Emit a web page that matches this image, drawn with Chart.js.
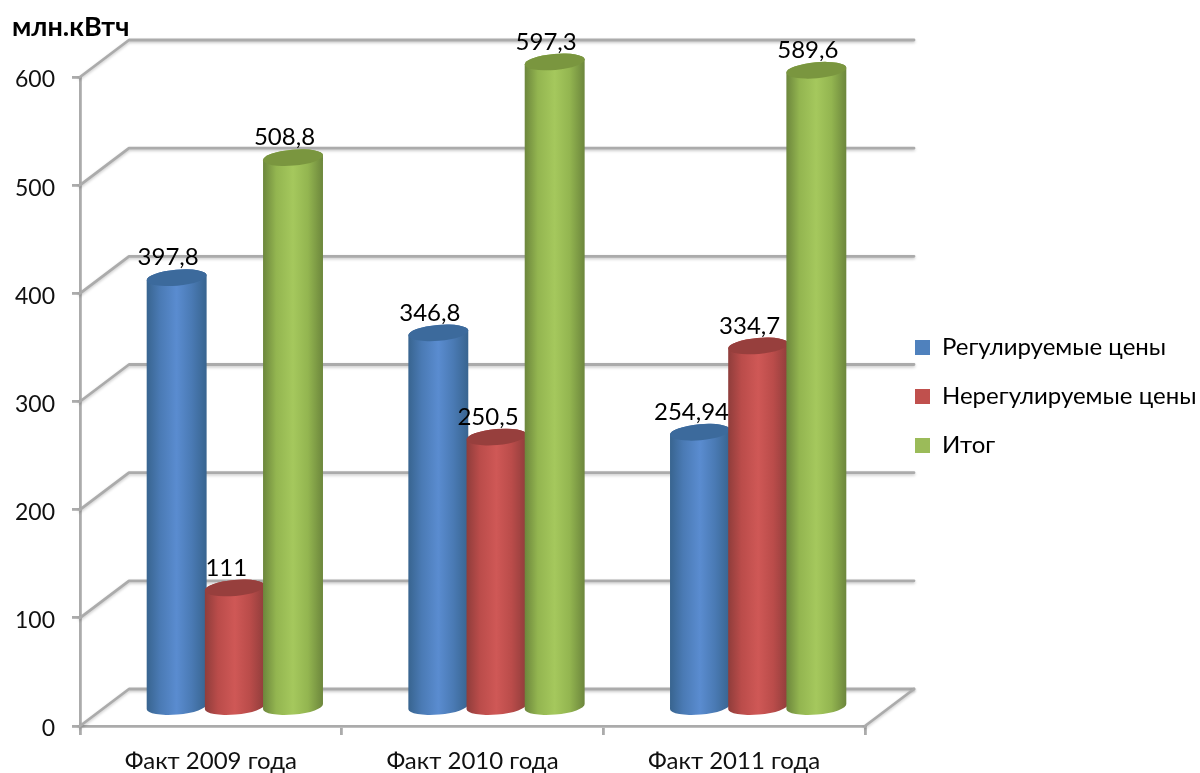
<!DOCTYPE html>
<html><head><meta charset="utf-8">
<style>html,body{margin:0;padding:0;background:#fff}canvas{display:block}</style>
<script src="https://cdn.jsdelivr.net/npm/chart.js@4"></script>
</head><body><canvas id="c" width="1200" height="773"></canvas>
<script>
const categories = ['Факт 2009 года','Факт 2010 года','Факт 2011 года'];
const regulated = [397.8,346.8,254.94];
const unregulated = [111,250.5,334.7];
const total = [508.8,597.3,589.6];
const seriesNames = ['Регулируемые цены','Нерегулируемые цены','Итог'];
const yMax = 600, yStep = 100;
const unitLabel = 'млн.кВтч';

const FONT = 'Lato, "Open Sans", sans-serif';
const FS = 23;
const DX = 24, DY = -18;
const WALL_DX = 49, WALL_DY = -37;
const WALL = '#ababab';
const palette = [
  {edge:'#38648f',mid:'#4a7ab4',light:'#5a8cd0',top:'#3c6a9c',key:'#4f81bd'},
  {edge:'#8f3d3b',mid:'#ba4c4a',light:'#cf5856',top:'#973f3d',key:'#c0504d'},
  {edge:'#6c863c',mid:'#93b550',light:'#a5c85d',top:'#7a963f',key:'#9bbb59'}
];

let barQueue = [];
Chart.BarElement.prototype.draw = function(ctx){ barQueue.push(this); };
function paintCylinder(el, ctx){
  const c = palette.find(p=>p.key===el.options.backgroundColor) || palette[0];
  const cx = el.x + DX, r = el.width/2, ry = 8, a = 5*Math.PI/180;
  const yt = el.y + DY, yb = el.base + DY;
  ctx.save();
  const g = ctx.createLinearGradient(cx-r,0,cx+r,0);
  g.addColorStop(0,c.edge);g.addColorStop(.22,c.mid);g.addColorStop(.5,c.light);
  g.addColorStop(.75,c.mid);g.addColorStop(1,c.edge);
  ctx.beginPath();
  ctx.ellipse(cx,yb,r,ry,-a,0,Math.PI,false);
  ctx.ellipse(cx,yt,r,ry,-a,Math.PI,Math.PI*2,false);
  ctx.closePath();
  ctx.fillStyle = g; ctx.fill();
  ctx.beginPath();
  ctx.ellipse(cx,yt,r,ry,-a,0,Math.PI*2);
  ctx.fillStyle = c.top; ctx.fill();
  ctx.restore();
}

const walls = {
  id:'walls',
  afterInit(chart){
    const lg = chart.legend, orig = lg.fit;
    lg.fit = function(){ orig.call(this); this.width = 335; };
  },
  afterLayout(chart){
    const lg = chart.legend, pad = lg.options.labels.padding;
    const w = lg.width;
    lg.left = 915 - pad; lg.right = lg.left + w;
    lg.top += 10; lg.bottom += 10;
  },
  beforeDatasetsDraw(chart){
    barQueue = [];
    const {ctx, scales:{x,y}} = chart;
    const L = x.left, R = x.right, rb = R + WALL_DX;
    const y0 = y.getPixelForValue(0);
    ctx.save();
    ctx.lineCap='round'; ctx.lineJoin='round';
    ctx.strokeStyle = WALL; ctx.lineWidth = 2.8;
    ctx.shadowColor='rgba(0,0,0,.22)'; ctx.shadowBlur=3; ctx.shadowOffsetY=1.5;
    y.ticks.forEach(t=>{
      const p = y.getPixelForValue(t.value);
      ctx.beginPath();
      ctx.moveTo(L,p);
      ctx.lineTo(L+WALL_DX,p+WALL_DY);
      ctx.lineTo(rb,p+WALL_DY);
      ctx.stroke();
    });
    ctx.beginPath();
    ctx.moveTo(R,y0);ctx.lineTo(rb,y0+WALL_DY);ctx.stroke();
    ctx.restore();
  },
  afterDatasetsDraw(chart){
    const {ctx} = chart;
    barQueue.slice().reverse().forEach(el=>paintCylinder(el,ctx));
    ctx.save();
    ctx.font = `24px ${FONT}`;
    ctx.fillStyle='#000';ctx.textAlign='center';ctx.textBaseline='middle';
    chart.data.datasets.forEach((ds,i)=>{
      chart.getDatasetMeta(i).data.forEach((el,j)=>{
        ctx.fillText(String(ds.data[j]).replace('.',','), el.x+DX-8.5, el.y+DY-20);
      });
    });
    ctx.restore();
  }
};

new Chart(document.getElementById('c'),{
  type:'bar',
  data:{labels:categories,datasets:[
    {label:seriesNames[0],data:regulated,backgroundColor:palette[0].key},
    {label:seriesNames[1],data:unregulated,backgroundColor:palette[1].key},
    {label:seriesNames[2],data:total,backgroundColor:palette[2].key}
  ]},
  plugins:[walls],
  options:{
    responsive:false,animation:false,
    layout:{padding:{left:12,right:0,top:0,bottom:0}},
    datasets:{bar:{categoryPercentage:0.667,barPercentage:1.034}},
    plugins:{
      tooltip:{enabled:false},
      title:{display:true,text:unitLabel,align:'start',color:'#000',
        font:{family:FONT,size:27,weight:'bold'},padding:{top:11,bottom:33.6}},
      legend:{position:'right',
        labels:{boxWidth:15,boxHeight:15,padding:25,color:'#000',
          font:{family:FONT,size:24}}}
    },
    scales:{
      x:{
        afterFit(s){s.height=47;},
        grid:{offset:true,drawOnChartArea:false,color:WALL,lineWidth:2.8,tickLength:9},
        border:{color:WALL,width:2.8},
        ticks:{color:'#111',font:{family:FONT,size:24},padding:12,maxRotation:0}
      },
      y:{
        min:0,max:yMax,
        afterFit(s){s.width=68;},
        grid:{drawOnChartArea:false,color:WALL,lineWidth:2.8,tickLength:8},
        border:{color:WALL,width:2.8},
        ticks:{stepSize:yStep,color:'#111',font:{family:FONT,size:FS},padding:17,labelOffset:3}
      }
    }
  }
});
</script></body></html>
